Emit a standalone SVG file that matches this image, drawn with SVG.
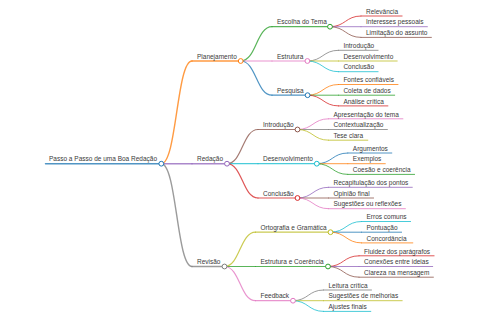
<svg xmlns="http://www.w3.org/2000/svg" width="480" height="320" viewBox="0 0 480 320">
<style>
text{font-family:"Liberation Sans",Arial,sans-serif;font-size:6.5px;fill:#3a3a3a}
line,path{fill:none;stroke-linecap:round;stroke-opacity:0.78}
circle{fill:#fff;stroke-width:1}
.d0{stroke-width:1.5}.d1{stroke-width:1.4}.d2{stroke-width:1.2}.d3{stroke-width:1}
.c0{stroke:#1f77b4}.c1{stroke:#ff7f0e}.c2{stroke:#2ca02c}.c3{stroke:#d62728}.c4{stroke:#9467bd}
.c5{stroke:#8c564b}.c6{stroke:#e377c2}.c7{stroke:#7f7f7f}.c8{stroke:#bcbd22}.c9{stroke:#17becf}
</style>
<rect width="480" height="320" fill="#fff"/>
<g id="connectors">
<path class="d1 c1" d="M161.3,163.7 C176.7,163.7 176.7,61 192,61"/>
<path class="d1 c4" d="M161.3,163.7 L192,163.7"/>
<path class="d1 c7" d="M161.3,163.7 C176.7,163.7 176.7,266.5 192,266.5"/>
<path class="d2 c2" d="M240.7,61 C256.3,61 256.3,26.7 272,26.7"/>
<path class="d2 c6" d="M240.7,61 L272,61"/>
<path class="d2 c0" d="M240.7,61 C256.3,61 256.3,95.2 272,95.2"/>
<path class="d2 c5" d="M227,163.7 C242.5,163.7 242.5,129.5 258,129.5"/>
<path class="d2 c9" d="M227,163.7 L258,163.7"/>
<path class="d2 c3" d="M227,163.7 C242.5,163.7 242.5,198 258,198"/>
<path class="d2 c8" d="M224.5,266.5 C240,266.5 240,232.2 255.5,232.2"/>
<path class="d2 c2" d="M224.5,266.5 L255.5,266.5"/>
<path class="d2 c6" d="M224.5,266.5 C240,266.5 240,300.7 255.5,300.7"/>
<path class="d3 c3" d="M330,26.7 C345.5,26.7 345.5,16 361,16"/>
<path class="d3 c4" d="M330,26.7 L361,26.7"/>
<path class="d3 c5" d="M330,26.7 C345.5,26.7 345.5,37.4 361,37.4"/>
<path class="d3 c7" d="M307.4,61 C322.9,61 322.9,50.3 338.4,50.3"/>
<path class="d3 c8" d="M307.4,61 L338.4,61"/>
<path class="d3 c9" d="M307.4,61 C322.9,61 322.9,71.7 338.4,71.7"/>
<path class="d3 c1" d="M307.6,95.2 C323,95.2 323,84.5 338.4,84.5"/>
<path class="d3 c2" d="M307.6,95.2 L338.4,95.2"/>
<path class="d3 c3" d="M307.6,95.2 C323,95.2 323,105.9 338.4,105.9"/>
<path class="d3 c6" d="M297.5,129.5 C313,129.5 313,118.8 328.5,118.8"/>
<path class="d3 c7" d="M297.5,129.5 L328.5,129.5"/>
<path class="d3 c8" d="M297.5,129.5 C313,129.5 313,140.2 328.5,140.2"/>
<path class="d3 c0" d="M316.8,163.7 C332.3,163.7 332.3,153 347.8,153"/>
<path class="d3 c1" d="M316.8,163.7 L347.8,163.7"/>
<path class="d3 c2" d="M316.8,163.7 C332.3,163.7 332.3,174.4 347.8,174.4"/>
<path class="d3 c4" d="M297.5,198 C313,198 313,187.3 328.5,187.3"/>
<path class="d3 c5" d="M297.5,198 L328.5,198"/>
<path class="d3 c6" d="M297.5,198 C313,198 313,208.7 328.5,208.7"/>
<path class="d3 c9" d="M330.5,232.2 C346,232.2 346,221.5 361.5,221.5"/>
<path class="d3 c0" d="M330.5,232.2 L361.5,232.2"/>
<path class="d3 c1" d="M330.5,232.2 C346,232.2 346,242.9 361.5,242.9"/>
<path class="d3 c3" d="M328,266.5 C343.5,266.5 343.5,255.8 359,255.8"/>
<path class="d3 c4" d="M328,266.5 L359,266.5"/>
<path class="d3 c5" d="M328,266.5 C343.5,266.5 343.5,277.2 359,277.2"/>
<path class="d3 c7" d="M293,300.7 C308.3,300.7 308.3,290 323.5,290"/>
<path class="d3 c8" d="M293,300.7 L323.5,300.7"/>
<path class="d3 c9" d="M293,300.7 C308.3,300.7 308.3,311.4 323.5,311.4"/>
</g>
<g id="root"><line class="d0 c0" x1="45.5" y1="163.7" x2="161.3" y2="163.7"/><circle class="c0" cx="161.3" cy="163.7" r="2.4"/><text x="49" y="161.4">Passo a Passo de uma Boa Redação</text></g>
<g id="planejamento"><line class="d1 c1" x1="192" y1="61" x2="240.7" y2="61"/><circle class="c1" cx="240.7" cy="61" r="2.4"/><text x="197" y="58.7">Planejamento</text></g>
<g id="redacao"><line class="d1 c4" x1="192" y1="163.7" x2="227" y2="163.7"/><circle class="c4" cx="227" cy="163.7" r="2.4"/><text x="197" y="161.4">Redação</text></g>
<g id="revisao"><line class="d1 c7" x1="192" y1="266.5" x2="224.5" y2="266.5"/><circle class="c7" cx="224.5" cy="266.5" r="2.4"/><text x="197" y="264.2">Revisão</text></g>
<g id="escolha"><line class="d2 c2" x1="272" y1="26.7" x2="330" y2="26.7"/><circle class="c2" cx="330" cy="26.7" r="2.4"/><text x="277" y="24.4">Escolha do Tema</text></g>
<g id="estrutura"><line class="d2 c6" x1="272" y1="61" x2="307.4" y2="61"/><circle class="c6" cx="307.4" cy="61" r="2.4"/><text x="277" y="58.7">Estrutura</text></g>
<g id="pesquisa"><line class="d2 c0" x1="272" y1="95.2" x2="307.6" y2="95.2"/><circle class="c0" cx="307.6" cy="95.2" r="2.4"/><text x="277" y="92.9">Pesquisa</text></g>
<g id="introducao"><line class="d2 c5" x1="258" y1="129.5" x2="297.5" y2="129.5"/><circle class="c5" cx="297.5" cy="129.5" r="2.4"/><text x="263" y="127.2">Introdução</text></g>
<g id="desenvolvimento"><line class="d2 c9" x1="258" y1="163.7" x2="316.8" y2="163.7"/><circle class="c9" cx="316.8" cy="163.7" r="2.4"/><text x="263" y="161.4">Desenvolvimento</text></g>
<g id="conclusao"><line class="d2 c3" x1="258" y1="198" x2="297.5" y2="198"/><circle class="c3" cx="297.5" cy="198" r="2.4"/><text x="263" y="195.7">Conclusão</text></g>
<g id="ortografia"><line class="d2 c8" x1="255.5" y1="232.2" x2="330.5" y2="232.2"/><circle class="c8" cx="330.5" cy="232.2" r="2.4"/><text x="260.5" y="229.9">Ortografia e Gramática</text></g>
<g id="estrutura-coerencia"><line class="d2 c2" x1="255.5" y1="266.5" x2="328" y2="266.5"/><circle class="c2" cx="328" cy="266.5" r="2.4"/><text x="260.5" y="264.2">Estrutura e Coerência</text></g>
<g id="feedback"><line class="d2 c6" x1="255.5" y1="300.7" x2="293" y2="300.7"/><circle class="c6" cx="293" cy="300.7" r="2.4"/><text x="260.5" y="298.4">Feedback</text></g>
<g id="relevancia"><line class="d3 c3" x1="361" y1="16" x2="402.1" y2="16"/><text x="366" y="13.7">Relevância</text></g>
<g id="interesses"><line class="d3 c4" x1="361" y1="26.7" x2="427.4" y2="26.7"/><text x="366" y="24.4">Interesses pessoais</text></g>
<g id="limitacao"><line class="d3 c5" x1="361" y1="37.4" x2="431.4" y2="37.4"/><text x="366" y="35.1">Limitação do assunto</text></g>
<g id="est-introducao"><line class="d3 c7" x1="338.4" y1="50.3" x2="378.1" y2="50.3"/><text x="343.4" y="48">Introdução</text></g>
<g id="est-desenvolvimento"><line class="d3 c8" x1="338.4" y1="61" x2="397.2" y2="61"/><text x="343.4" y="58.7">Desenvolvimento</text></g>
<g id="est-conclusao"><line class="d3 c9" x1="338.4" y1="71.7" x2="378.1" y2="71.7"/><text x="343.4" y="69.4">Conclusão</text></g>
<g id="fontes"><line class="d3 c1" x1="338.4" y1="84.5" x2="398" y2="84.5"/><text x="343.4" y="82.2">Fontes confiáveis</text></g>
<g id="coleta"><line class="d3 c2" x1="338.4" y1="95.2" x2="394.7" y2="95.2"/><text x="343.4" y="92.9">Coleta de dados</text></g>
<g id="analise"><line class="d3 c3" x1="338.4" y1="105.9" x2="387.9" y2="105.9"/><text x="343.4" y="103.6">Análise crítica</text></g>
<g id="apresentacao"><line class="d3 c6" x1="328.5" y1="118.8" x2="402.9" y2="118.8"/><text x="333.5" y="116.5">Apresentação do tema</text></g>
<g id="contextualizacao"><line class="d3 c7" x1="328.5" y1="129.5" x2="387.4" y2="129.5"/><text x="333.5" y="127.2">Contextualização</text></g>
<g id="tese"><line class="d3 c8" x1="328.5" y1="140.2" x2="367.8" y2="140.2"/><text x="333.5" y="137.9">Tese clara</text></g>
<g id="argumentos"><line class="d3 c0" x1="347.8" y1="153" x2="391.8" y2="153"/><text x="352.8" y="150.7">Argumentos</text></g>
<g id="exemplos"><line class="d3 c1" x1="347.8" y1="163.7" x2="385.3" y2="163.7"/><text x="352.8" y="161.4">Exemplos</text></g>
<g id="coesao"><line class="d3 c2" x1="347.8" y1="174.4" x2="414.6" y2="174.4"/><text x="352.8" y="172.1">Coesão e coerência</text></g>
<g id="recapitulacao"><line class="d3 c4" x1="328.5" y1="187.3" x2="412.3" y2="187.3"/><text x="333.5" y="185">Recapitulação dos pontos</text></g>
<g id="opiniao"><line class="d3 c5" x1="328.5" y1="198" x2="373.6" y2="198"/><text x="333.5" y="195.7">Opinião final</text></g>
<g id="sugestoes-reflexoes"><line class="d3 c6" x1="328.5" y1="208.7" x2="405.4" y2="208.7"/><text x="333.5" y="206.4">Sugestões ou reflexões</text></g>
<g id="erros"><line class="d3 c9" x1="361.5" y1="221.5" x2="410.6" y2="221.5"/><text x="366.5" y="219.2">Erros comuns</text></g>
<g id="pontuacao"><line class="d3 c0" x1="361.5" y1="232.2" x2="401.6" y2="232.2"/><text x="366.5" y="229.9">Pontuação</text></g>
<g id="concordancia"><line class="d3 c1" x1="361.5" y1="242.9" x2="412.8" y2="242.9"/><text x="366.5" y="240.6">Concordância</text></g>
<g id="fluidez"><line class="d3 c3" x1="359" y1="255.8" x2="434.1" y2="255.8"/><text x="364" y="253.5">Fluidez dos parágrafos</text></g>
<g id="conexoes"><line class="d3 c4" x1="359" y1="266.5" x2="432.7" y2="266.5"/><text x="364" y="264.2">Conexões entre ideias</text></g>
<g id="clareza"><line class="d3 c5" x1="359" y1="277.2" x2="433.4" y2="277.2"/><text x="364" y="274.9">Clareza na mensagem</text></g>
<g id="leitura"><line class="d3 c7" x1="323.5" y1="290" x2="371.5" y2="290"/><text x="328.5" y="287.7">Leitura crítica</text></g>
<g id="sugestoes-melhorias"><line class="d3 c8" x1="323.5" y1="300.7" x2="402.2" y2="300.7"/><text x="328.5" y="298.4">Sugestões de melhorias</text></g>
<g id="ajustes"><line class="d3 c9" x1="323.5" y1="311.4" x2="370.8" y2="311.4"/><text x="328.5" y="309.1">Ajustes finais</text></g>
</svg>
